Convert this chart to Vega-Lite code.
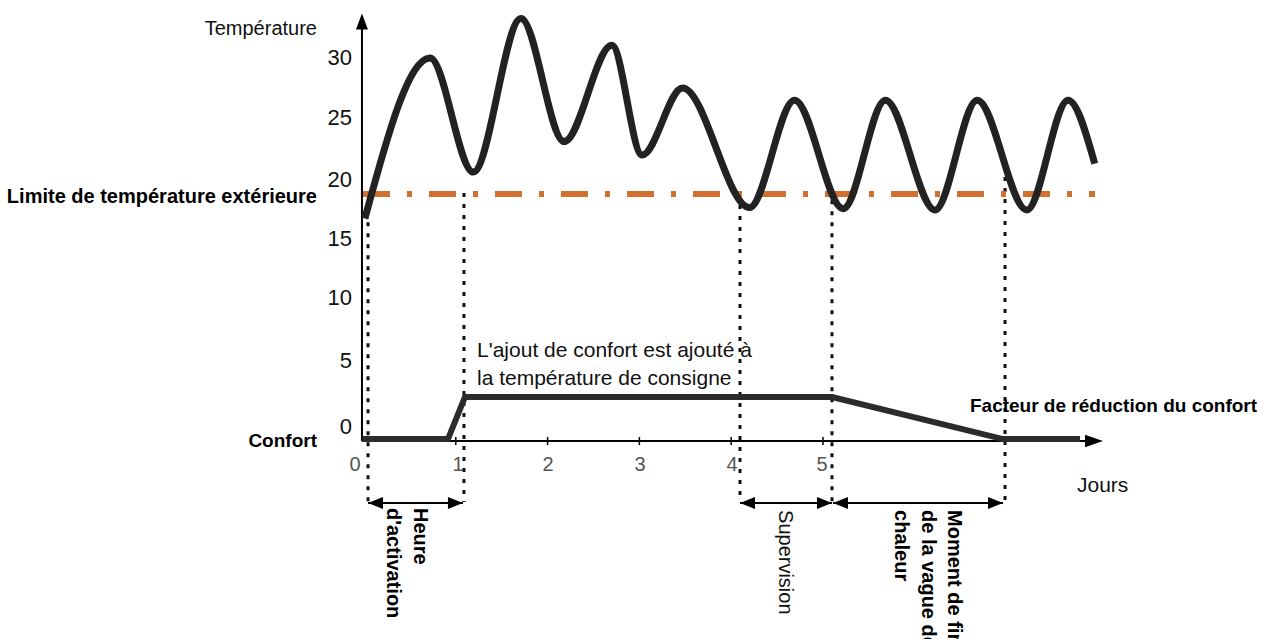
{
  "$schema": "https://vega.github.io/schema/vega-lite/v6.json",
  "width": 1274,
  "height": 639,
  "autosize": {"type": "none"},
  "padding": 0,
  "background": "white",
  "config": {"view": {"stroke": null}, "font": "Liberation Sans"},
  "encoding": {
    "x": {"field": "jour", "type": "quantitative", "scale": {"domain": [-3.965, 9.913], "nice": false, "zero": false}, "axis": null},
    "y": {"field": "valeur", "type": "quantitative", "scale": {"domain": [-17.869, 34.508], "nice": false, "zero": false}, "axis": null}
  },
  "layer": [
    {
      "data": {"values": [
        {"jour": 0.044, "valeur": 16.3, "bas": -6.64},
        {"jour": 1.089, "valeur": 18.69, "bas": -6.64},
        {"jour": 4.096, "valeur": 17.7, "bas": -6.64},
        {"jour": 5.098, "valeur": 18.1, "bas": -6.64},
        {"jour": 6.983, "valeur": 20.0, "bas": -6.64}
      ]},
      "mark": {"type": "rule", "color": "#111111", "strokeWidth": 3, "strokeDash": [4, 7]},
      "encoding": {"y2": {"field": "bas"}}
    },
    {
      "data": {"values": [
        {"jour": -0.011, "valeur": 18.61},
        {"jour": 7.963, "valeur": 18.61}
      ]},
      "mark": {"type": "line", "color": "#d4702f", "strokeWidth": 6, "strokeDash": [27, 17, 5, 17], "strokeCap": "butt"},
      "encoding": {}
    },
    {
      "data": {"values": [{"jour": -0.022, "valeur": -1.64, "haut": 32.3}]},
      "mark": {"type": "rule", "color": "#000000", "strokeWidth": 2},
      "encoding": {"y2": {"field": "haut"}}
    },
    {
      "data": {"values": [{"jour": -0.022, "valeur": -1.64, "fin": 7.9}]},
      "mark": {"type": "rule", "color": "#000000", "strokeWidth": 2},
      "encoding": {"x2": {"field": "fin"}}
    },
    {
      "data": {"values": [{"jour": -0.022, "valeur": 33.4}]},
      "mark": {"type": "point", "shape": "M0,0L0.75,2L-0.75,2Z", "size": 256, "filled": true, "color": "#000000", "opacity": 1, "strokeWidth": 0}
    },
    {
      "data": {"values": [{"jour": 8.05, "valeur": -1.64}]},
      "mark": {"type": "point", "shape": "M0,0L-2,-0.7L-2,0.7Z", "size": 324, "filled": true, "color": "#000000", "opacity": 1, "strokeWidth": 0}
    },
    {
      "data": {"values": [
        {"jour": 1, "valeur": -1.64},
        {"jour": 2, "valeur": -1.64},
        {"jour": 3, "valeur": -1.64},
        {"jour": 4, "valeur": -1.64},
        {"jour": 5, "valeur": -1.64}
      ]},
      "mark": {"type": "tick", "orient": "vertical", "size": 8, "thickness": 1.5, "color": "#000000", "opacity": 1}
    },
    {
      "data": {"values": [
        {"jour": 0.044, "fin": 1.078, "valeur": -6.72},
        {"jour": 4.096, "fin": 5.098, "valeur": -6.72},
        {"jour": 5.109, "fin": 6.961, "valeur": -6.72}
      ]},
      "mark": {"type": "rule", "color": "#000000", "strokeWidth": 2},
      "encoding": {"x2": {"field": "fin"}}
    },
    {
      "data": {"values": [
        {"jour": 0.044, "valeur": -6.72},
        {"jour": 4.096, "valeur": -6.72},
        {"jour": 5.109, "valeur": -6.72}
      ]},
      "mark": {"type": "point", "shape": "M0,0L2,-0.8L2,0.8Z", "size": 225, "filled": true, "color": "#000000", "opacity": 1, "strokeWidth": 0}
    },
    {
      "data": {"values": [
        {"jour": 1.078, "valeur": -6.72},
        {"jour": 5.098, "valeur": -6.72},
        {"jour": 6.961, "valeur": -6.72}
      ]},
      "mark": {"type": "point", "shape": "M0,0L-2,-0.8L-2,0.8Z", "size": 225, "filled": true, "color": "#000000", "opacity": 1, "strokeWidth": 0}
    },
    {
      "data": {"values": [
        {"jour": -0.02, "valeur": -1.48},
        {"jour": 0.915, "valeur": -1.48},
        {"jour": 1.10, "valeur": 1.97},
        {"jour": 5.10, "valeur": 1.97},
        {"jour": 6.96, "valeur": -1.48},
        {"jour": 7.80, "valeur": -1.48}
      ]},
      "mark": {"type": "line", "color": "#2b2b2b", "strokeWidth": 6, "strokeCap": "butt"},
      "encoding": {}
    },
    {
      "data": {"values": [
        {"jour": 0.01, "valeur": 16.6},
        {"jour": 0.72, "valeur": 29.75},
        {"jour": 1.19, "valeur": 20.4},
        {"jour": 1.71, "valeur": 33.0},
        {"jour": 2.18, "valeur": 22.9},
        {"jour": 2.70, "valeur": 30.8},
        {"jour": 3.03, "valeur": 21.8},
        {"jour": 3.47, "valeur": 27.3},
        {"jour": 4.20, "valeur": 17.5},
        {"jour": 4.69, "valeur": 26.3},
        {"jour": 5.22, "valeur": 17.4},
        {"jour": 5.68, "valeur": 26.3},
        {"jour": 6.22, "valeur": 17.3},
        {"jour": 6.68, "valeur": 26.3},
        {"jour": 7.22, "valeur": 17.3},
        {"jour": 7.67, "valeur": 26.3},
        {"jour": 7.96, "valeur": 21.1}
      ]},
      "mark": {"type": "line", "color": "#222222", "strokeWidth": 7, "strokeCap": "butt", "interpolate": "monotone"},
      "encoding": {}
    },
    {
      "data": {"values": [
        {"jour": -0.131, "valeur": 29.75, "t": "30"},
        {"jour": -0.131, "valeur": 24.84, "t": "25"},
        {"jour": -0.131, "valeur": 19.75, "t": "20"},
        {"jour": -0.131, "valeur": 14.92, "t": "15"},
        {"jour": -0.131, "valeur": 10.08, "t": "10"},
        {"jour": -0.131, "valeur": 4.92, "t": "5"},
        {"jour": -0.131, "valeur": -0.49, "t": "0"}
      ]},
      "mark": {"type": "text", "align": "right", "baseline": "middle", "fontSize": 22, "color": "#111111"},
      "encoding": {"text": {"field": "t"}}
    },
    {
      "data": {"values": [
        {"jour": -0.098, "valeur": -3.61, "t": "0"},
        {"jour": 1.024, "valeur": -3.61, "t": "1"},
        {"jour": 2.004, "valeur": -3.61, "t": "2"},
        {"jour": 3.007, "valeur": -3.61, "t": "3"},
        {"jour": 4.009, "valeur": -3.61, "t": "4"},
        {"jour": 4.989, "valeur": -3.61, "t": "5"}
      ]},
      "mark": {"type": "text", "align": "center", "baseline": "middle", "fontSize": 20, "color": "#555555"},
      "encoding": {"text": {"field": "t"}}
    },
    {
      "data": {"values": [{"jour": -0.512, "valeur": 32.16, "t": "Température"}]},
      "mark": {"type": "text", "align": "right", "baseline": "middle", "fontSize": 20, "color": "#111111"},
      "encoding": {"text": {"field": "t"}}
    },
    {
      "data": {"values": [{"jour": -0.512, "valeur": 18.36, "t": "Limite de température extérieure"}]},
      "mark": {"type": "text", "align": "right", "baseline": "middle", "fontSize": 20, "fontWeight": "bold", "color": "#000000"},
      "encoding": {"text": {"field": "t"}}
    },
    {
      "data": {"values": [{"jour": -0.512, "valeur": -1.64, "t": "Confort"}]},
      "mark": {"type": "text", "align": "right", "baseline": "middle", "fontSize": 19, "fontWeight": "bold", "color": "#000000"},
      "encoding": {"text": {"field": "t"}}
    },
    {
      "data": {"values": [{"jour": 6.601, "valeur": 1.23, "t": "Facteur de réduction du confort"}]},
      "mark": {"type": "text", "align": "left", "baseline": "middle", "fontSize": 19, "fontWeight": "bold", "color": "#000000"},
      "encoding": {"text": {"field": "t"}}
    },
    {
      "data": {"values": [
        {"jour": 1.231, "valeur": 5.74, "t": "L'ajout de confort est ajouté à"},
        {"jour": 1.231, "valeur": 3.48, "t": "la température de consigne"}
      ]},
      "mark": {"type": "text", "align": "left", "baseline": "middle", "fontSize": 21, "color": "#111111"},
      "encoding": {"text": {"field": "t"}}
    },
    {
      "data": {"values": [{"jour": 7.767, "valeur": -5.29, "t": "Jours"}]},
      "mark": {"type": "text", "align": "left", "baseline": "middle", "fontSize": 21, "color": "#111111"},
      "encoding": {"text": {"field": "t"}}
    },
    {
      "data": {"values": [
        {"jour": 0.719, "valeur": -7.13, "t": "Heure\nd'activation"},
        {"jour": 6.54, "valeur": -7.30, "t": "Moment de fin\nde la vague de\nchaleur"}
      ]},
      "mark": {"type": "text", "align": "left", "baseline": "top", "angle": 90, "fontSize": 20, "fontWeight": "bold", "lineBreak": "\n", "lineHeight": 26.5, "color": "#000000"},
      "encoding": {"text": {"field": "t"}}
    },
    {
      "data": {"values": [{"jour": 4.70, "valeur": -7.30, "t": "Supervision"}]},
      "mark": {"type": "text", "align": "left", "baseline": "top", "angle": 90, "fontSize": 20, "color": "#111111"},
      "encoding": {"text": {"field": "t"}}
    }
  ]
}
